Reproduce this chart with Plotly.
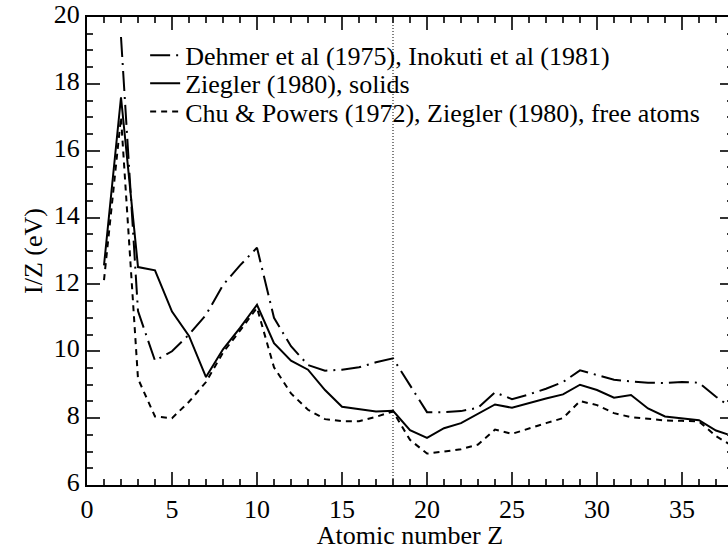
import plotly.graph_objects as go

z_all = list(range(1, 39))
z_dehmer = list(range(2, 39))

dehmer = [19.4, 11.2, 9.72, 10.0, 10.5, 11.09, 11.98, 12.57, 13.1, 11.0,
          10.15, 9.59, 9.42, 9.45, 9.52, 9.67, 9.79, 8.98, 8.18, 8.18,
          8.21, 8.31, 8.77, 8.57, 8.71, 8.88, 9.08, 9.43, 9.30, 9.15,
          9.10, 9.06, 9.05, 9.08, 9.06, 8.64, 8.28]

ziegler_solids = [12.57, 17.6, 12.52, 12.42, 11.19, 10.46, 9.23, 10.06, 10.70, 11.39,
                  10.24, 9.72, 9.45, 8.84, 8.34, 8.26, 8.2, 8.22, 7.64, 7.41,
                  7.70, 7.85, 8.12, 8.41, 8.31, 8.46, 8.59, 8.71, 9.0, 8.84,
                  8.61, 8.69, 8.29, 8.05, 8.0, 7.94, 7.63, 7.46]

chu_free = [12.13, 17.0, 9.18, 8.05, 8.0, 8.49, 9.08, 9.96, 10.62, 11.3,
            9.52, 8.74, 8.25, 7.97, 7.91, 7.91, 8.04, 8.2, 7.35, 6.94,
            7.0, 7.07, 7.21, 7.66, 7.53, 7.7, 7.85, 8.0, 8.51, 8.39,
            8.15, 8.03, 7.97, 7.93, 7.92, 7.9, 7.46, 7.16]

names = ["Dehmer et al (1975), Inokuti et al (1981)",
         "Ziegler (1980), solids",
         "Chu &amp; Powers (1972), Ziegler (1980), free atoms"]

marker_z = [18, 18]
marker_y = [6, 20]

FONT = "Liberation Serif"

fig = go.Figure()
fig.add_trace(go.Scatter(x=z_dehmer, y=dehmer, mode="lines", name=names[0], legend="legend",
                         line=dict(color="black", width=2, dash="20px,6px,2px,6px")))
fig.add_trace(go.Scatter(x=z_all, y=ziegler_solids, mode="lines", name=names[1], legend="legend2",
                         line=dict(color="black", width=2)))
fig.add_trace(go.Scatter(x=z_all, y=chu_free, mode="lines", name=names[2], legend="legend3",
                         line=dict(color="black", width=2, dash="6px,5px")))
fig.add_trace(go.Scatter(x=marker_z, y=marker_y, mode="lines", showlegend=False,
                         line=dict(color="black", width=1, dash="1px,2px")))

axis_common = dict(showline=True, linecolor="black", linewidth=2, mirror="ticks",
                   ticks="inside", ticklen=13, tickwidth=1.5, tickcolor="#333",
                   showgrid=False, zeroline=False, ticklabeloverflow="allow",
                   tickfont=dict(family=FONT, size=26, color="black"))

legend_common = dict(x=0.09, xanchor="left", yanchor="middle",
                     bgcolor="rgba(0,0,0,0)", borderwidth=0,
                     font=dict(family=FONT, size=26, color="black"),
                     itemwidth=30, tracegroupgap=0)

fig.update_layout(
    width=735, height=550,
    margin=dict(l=87, r=0, t=10, b=65),
    paper_bgcolor="white", plot_bgcolor="white",
    font=dict(family=FONT, size=26, color="black"),
    xaxis=dict(range=[0, 38], dtick=5, tick0=0,
               minor=dict(dtick=1, ticks="inside", ticklen=6, tickcolor="#333", tickwidth=1.5),
               title=dict(text="Atomic number Z", font=dict(family=FONT, size=26), standoff=1),
               **axis_common),
    yaxis=dict(range=[6, 20], dtick=2, tick0=0, ticklabelshift=-3,
               minor=dict(dtick=0.5, ticks="inside", ticklen=6, tickcolor="#333", tickwidth=1.5),
               title=dict(text="I/Z (eV)", font=dict(family=FONT, size=26), standoff=4),
               **axis_common),
    legend=dict(y=0.918, **legend_common),
    legend2=dict(y=0.858, **legend_common),
    legend3=dict(y=0.798, **legend_common),
    showlegend=True,
)

fig.write_html("out.html", config={"displayModeBar": False},
               post_script="document.body.style.margin='0';document.body.style.overflow='hidden';")
